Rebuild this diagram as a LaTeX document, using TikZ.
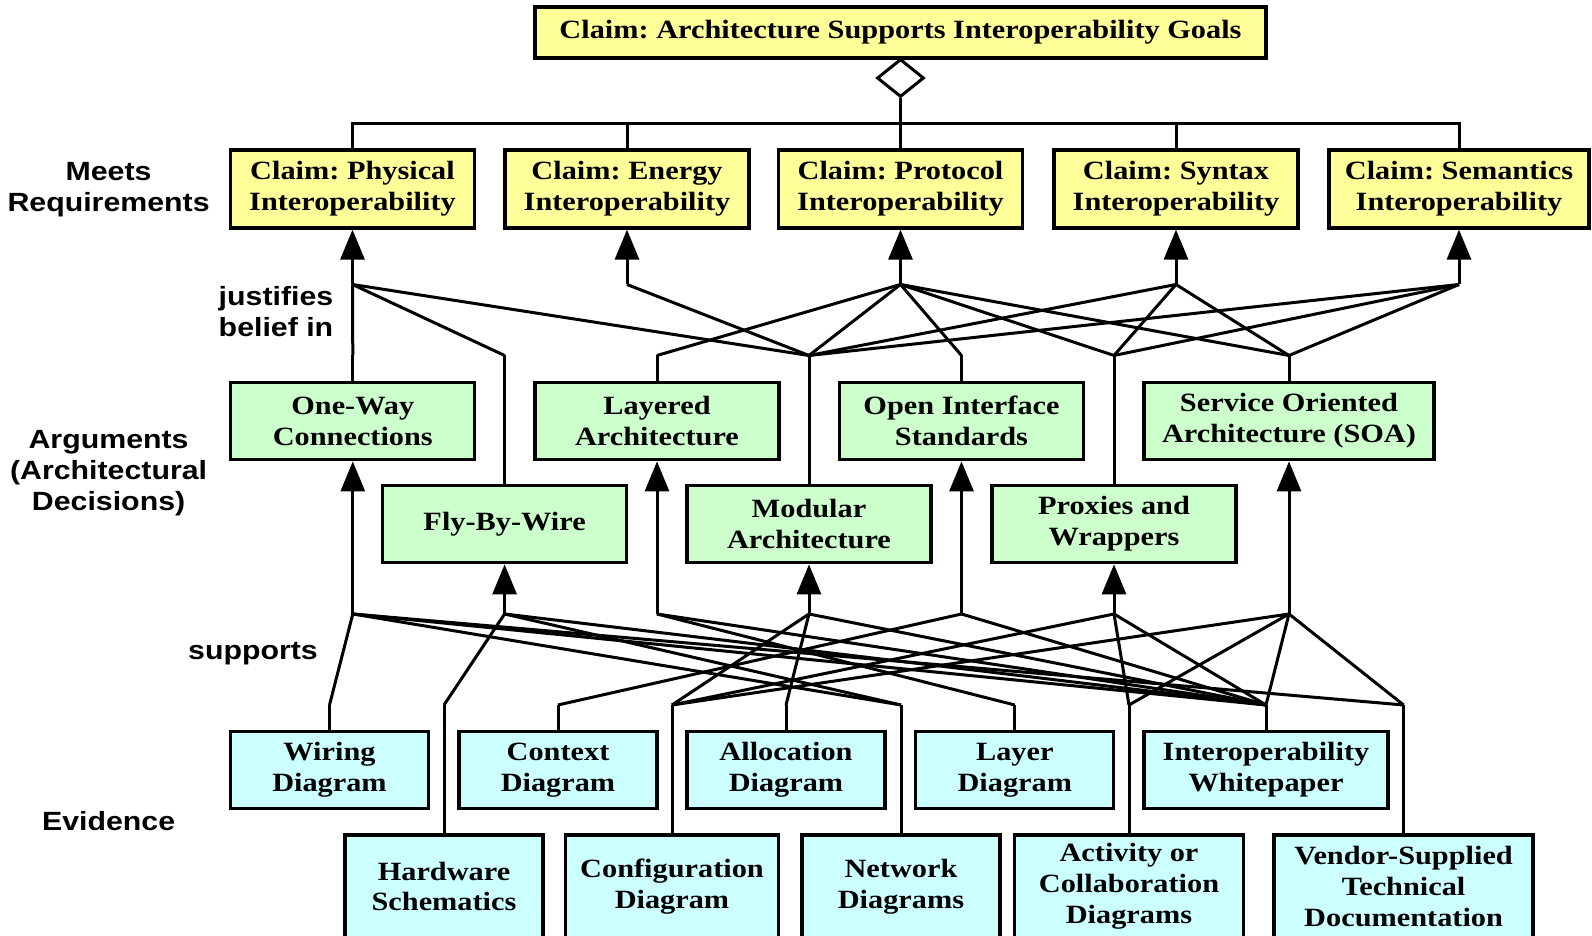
\documentclass[tikz,border=0pt]{standalone}
\usepackage{fontspec}
\newfontfamily\boxfont{Liberation Serif}[FakeStretch=1.15]
\newfontfamily\sidefont{Liberation Sans}[FakeStretch=1.15]
\usetikzlibrary{arrows.meta,shapes.geometric}
\frenchspacing
\definecolor{claimfill}{RGB}{255,255,153}
\definecolor{argfill}{RGB}{204,255,204}
\definecolor{evidfill}{RGB}{204,255,255}
\tikzset{
  box/.style={draw, line width=0.033cm, align=center, inner sep=0pt,
    font=\boxfont\bfseries\fontsize{7.5}{8.8}\selectfont},
  claimbox/.style={box, fill=claimfill, minimum width=2.44cm, minimum height=0.78cm},
  argbox/.style={box, fill=argfill, minimum width=2.44cm, minimum height=0.775cm},
  evidbox/.style={box, fill=evidfill, minimum width=1.98cm, minimum height=0.77cm},
  side/.style={align=center, font=\sidefont\bfseries\fontsize{7.5}{8.8}\selectfont},
  link/.style={line width=0.03cm},
  uparrow/.style={link, -{Triangle[length=0.3cm, width=0.24cm]}}
}

\begin{document}
\begin{tikzpicture}
    \useasboundingbox (0,0) rectangle (15.92,-9.36);

    % levels of the junctions
    \coordinate (levJ1) at (0,-2.845);
    \coordinate (levJ2) at (0,-3.555);
    \coordinate (levJ3) at (0,-6.14);
    \coordinate (levJ4) at (0,-7.05);
    \coordinate (levBar) at (0,-1.24);

    % top claim
    \node[box, fill=claimfill, minimum width=7.31cm, minimum height=0.51cm] (goal) at (9.005,-0.325)
        {Claim: Architecture Supports Interoperability Goals};
    \node[diamond, draw, line width=0.03cm, fill=white, inner sep=0pt,
        minimum width=0.47cm, minimum height=0.38cm] (agg) at (9.005,-0.78) {};

    % claims
    \node[claimbox] (cPhys) at (3.525,-1.89) {Claim: Physical\\Interoperability};
    \node[claimbox] (cEner) at (6.27,-1.89) {Claim: Energy\\Interoperability};
    \node[claimbox] (cProt) at (9.005,-1.89) {Claim: Protocol\\Interoperability};
    \node[claimbox] (cSynt) at (11.76,-1.89) {Claim: Syntax\\Interoperability};
    \node[claimbox, minimum width=2.6cm] (cSem) at (14.59,-1.89) {Claim: Semantics\\Interoperability};

    % arguments
    \node[argbox] (aOneWay) at (3.528,-4.21) {One-Way\\Connections};
    \node[argbox] (aLayer) at (6.57,-4.21) {Layered\\Architecture};
    \node[argbox] (aOIS) at (9.615,-4.21) {Open Interface\\Standards};
    \node[argbox, minimum width=2.9cm] (aSOA) at (12.89,-4.21) {Service Oriented\\Architecture (SOA)};
    \node[argbox] (aFBW) at (5.046,-5.24) {Fly-By-Wire};
    \node[argbox] (aModul) at (8.09,-5.24) {Modular\\Architecture};
    \node[argbox] (aProxy) at (11.14,-5.24) {Proxies and\\Wrappers};

    % evidence
    \node[evidbox] (eWire) at (3.295,-7.70) {Wiring\\Diagram};
    \node[evidbox] (eCtx) at (5.58,-7.70) {Context\\Diagram};
    \node[evidbox] (eAlloc) at (7.86,-7.70) {Allocation\\Diagram};
    \node[evidbox] (eLayer) at (10.148,-7.70) {Layer\\Diagram};
    \node[evidbox, minimum width=2.44cm] (eWhite) at (12.66,-7.70) {Interoperability\\Whitepaper};
    \node[evidbox, minimum height=1.03cm] (eHW) at (4.44,-8.865) {Hardware\\Schematics};
    \node[evidbox, minimum height=1.03cm, minimum width=2.13cm] (eCfg) at (6.72,-8.865) {Configuration\\Diagram};
    \node[evidbox, minimum height=1.03cm] (eNet) at (9.01,-8.865) {Network\\Diagrams};
    \node[evidbox, minimum height=1.03cm, minimum width=2.29cm] (eAct) at (11.29,-8.865) {Activity or\\Collaboration\\Diagrams};
    \node[evidbox, minimum height=1.03cm, minimum width=2.59cm] (eVend) at (14.036,-8.865) {Vendor-Supplied\\Technical\\Documentation};

    % side labels
    \node[side] (lMeets) at (1.086,-1.895) {Meets\\Requirements};
    \node[side] (lJust) at (2.76,-3.12) {justifies\\belief in};
    \node[side] (lArgs) at (1.086,-4.73) {Arguments\\(Architectural\\Decisions)};
    \node[side] (lSupp) at (2.53,-6.54) {supports};
    \node[side] (lEvid) at (1.086,-8.21) {Evidence};

    % aggregation of the claims
    \coordinate (bar) at (agg.south |- levBar);
    \draw[link] (agg.south) -- (bar);
    \draw[link] (cPhys.north) |- (cSem.north |- levBar) -- (cSem.north);
    \draw[link] (cEner.north) -- (cEner.north |- levBar);
    \draw[link] (cProt.north) -- (cProt.north |- levBar);
    \draw[link] (cSynt.north) -- (cSynt.north |- levBar);

    % junctions below the claims
    \coordinate (jPhys) at (cPhys.south |- levJ1);
    \coordinate (jEner) at (cEner.south |- levJ1);
    \coordinate (jProt) at (cProt.south |- levJ1);
    \coordinate (jSynt) at (cSynt.south |- levJ1);
    \coordinate (jSem) at (cSem.south |- levJ1);
    \draw[uparrow] (jPhys) -- (cPhys.south);
    \draw[uparrow] (jEner) -- (cEner.south);
    \draw[uparrow] (jProt) -- (cProt.south);
    \draw[uparrow] (jSynt) -- (cSynt.south);
    \draw[uparrow] (jSem) -- (cSem.south);

    % junctions above and below the arguments
    \coordinate (aOneWay-up) at (aOneWay.north |- levJ2);
    \coordinate (aLayer-up) at (aLayer.north |- levJ2);
    \coordinate (aOIS-up) at (aOIS.north |- levJ2);
    \coordinate (aSOA-up) at (aSOA.north |- levJ2);
    \coordinate (aFBW-up) at (aFBW.north |- levJ2);
    \coordinate (aModul-up) at (aModul.north |- levJ2);
    \coordinate (aProxy-up) at (aProxy.north |- levJ2);
    \draw[link] (aOneWay.north) -- (aOneWay-up);
    \draw[link] (aLayer.north) -- (aLayer-up);
    \draw[link] (aOIS.north) -- (aOIS-up);
    \draw[link] (aSOA.north) -- (aSOA-up);
    \draw[link] (aFBW.north) -- (aFBW-up);
    \draw[link] (aModul.north) -- (aModul-up);
    \draw[link] (aProxy.north) -- (aProxy-up);

    \coordinate (aOneWay-dn) at (aOneWay.south |- levJ3);
    \coordinate (aLayer-dn) at (aLayer.south |- levJ3);
    \coordinate (aOIS-dn) at (aOIS.south |- levJ3);
    \coordinate (aSOA-dn) at (aSOA.south |- levJ3);
    \coordinate (aFBW-dn) at (aFBW.south |- levJ3);
    \coordinate (aModul-dn) at (aModul.south |- levJ3);
    \coordinate (aProxy-dn) at (aProxy.south |- levJ3);
    \draw[uparrow] (aOneWay-dn) -- (aOneWay.south);
    \draw[uparrow] (aLayer-dn) -- (aLayer.south);
    \draw[uparrow] (aOIS-dn) -- (aOIS.south);
    \draw[uparrow] (aSOA-dn) -- (aSOA.south);
    \draw[uparrow] (aFBW-dn) -- (aFBW.south);
    \draw[uparrow] (aModul-dn) -- (aModul.south);
    \draw[uparrow] (aProxy-dn) -- (aProxy.south);

    % junctions above the evidence
    \coordinate (eWire-up) at (eWire.north |- levJ4);
    \coordinate (eCtx-up) at (eCtx.north |- levJ4);
    \coordinate (eAlloc-up) at (eAlloc.north |- levJ4);
    \coordinate (eLayer-up) at (eLayer.north |- levJ4);
    \coordinate (eWhite-up) at (eWhite.north |- levJ4);
    \coordinate (eHW-up) at (eHW.north |- levJ4);
    \coordinate (eCfg-up) at (eCfg.north |- levJ4);
    \coordinate (eNet-up) at (eNet.north |- levJ4);
    \coordinate (eAct-up) at (eAct.north |- levJ4);
    \coordinate (eVend-up) at (eVend.north |- levJ4);
    \draw[link] (eWire.north) -- (eWire-up);
    \draw[link] (eCtx.north) -- (eCtx-up);
    \draw[link] (eAlloc.north) -- (eAlloc-up);
    \draw[link] (eLayer.north) -- (eLayer-up);
    \draw[link] (eWhite.north) -- (eWhite-up);
    \draw[link] (eHW.north) -- (eHW-up);
    \draw[link] (eCfg.north) -- (eCfg-up);
    \draw[link] (eNet.north) -- (eNet-up);
    \draw[link] (eAct.north) -- (eAct-up);
    \draw[link] (eVend.north) -- (eVend-up);

    % justifies belief in
    \draw[link] (aOneWay-up) -- (jPhys);
    \draw[link] (aFBW-up) -- (jPhys);
    \draw[link] (aModul-up) -- (jPhys);
    \draw[link] (aModul-up) -- (jEner);
    \draw[link] (aLayer-up) -- (jProt);
    \draw[link] (aModul-up) -- (jProt);
    \draw[link] (aOIS-up) -- (jProt);
    \draw[link] (aProxy-up) -- (jProt);
    \draw[link] (aSOA-up) -- (jProt);
    \draw[link] (aModul-up) -- (jSynt);
    \draw[link] (aProxy-up) -- (jSynt);
    \draw[link] (aSOA-up) -- (jSynt);
    \draw[link] (aModul-up) -- (jSem);
    \draw[link] (aProxy-up) -- (jSem);
    \draw[link] (aSOA-up) -- (jSem);

    % supports
    \draw[link] (eWire-up) -- (aOneWay-dn);
    \draw[link] (eNet-up) -- (aOneWay-dn);
    \draw[link] (eWhite-up) -- (aOneWay-dn);
    \draw[link] (eVend-up) -- (aOneWay-dn);
    \draw[link] (eHW-up) -- (aFBW-dn);
    \draw[link] (eNet-up) -- (aFBW-dn);
    \draw[link] (eWhite-up) -- (aFBW-dn);
    \draw[link] (eLayer-up) -- (aLayer-dn);
    \draw[link] (eWhite-up) -- (aLayer-dn);
    \draw[link] (eCfg-up) -- (aModul-dn);
    \draw[link] (eAlloc-up) -- (aModul-dn);
    \draw[link] (eWhite-up) -- (aModul-dn);
    \draw[link] (eCtx-up) -- (aOIS-dn);
    \draw[link] (eWhite-up) -- (aOIS-dn);
    \draw[link] (eCfg-up) -- (aProxy-dn);
    \draw[link] (eAct-up) -- (aProxy-dn);
    \draw[link] (eWhite-up) -- (aProxy-dn);
    \draw[link] (eCfg-up) -- (aSOA-dn);
    \draw[link] (eAct-up) -- (aSOA-dn);
    \draw[link] (eWhite-up) -- (aSOA-dn);
    \draw[link] (eVend-up) -- (aSOA-dn);
\end{tikzpicture}
\end{document}
